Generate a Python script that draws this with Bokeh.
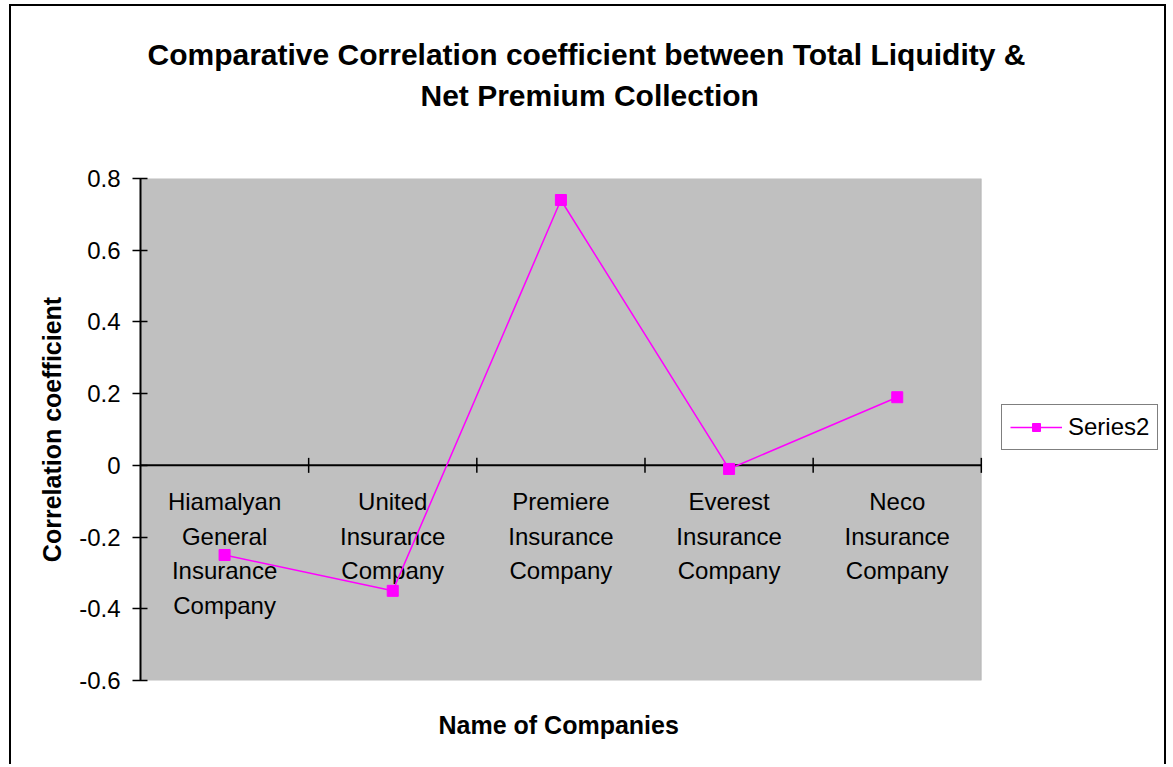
from bokeh.plotting import figure
from bokeh.models import (ColumnDataSource, Range1d, FixedTicker, CustomJSTickFormatter,
                          BoxAnnotation, Title, Legend, LegendItem)
from bokeh.core.properties import value
from bokeh.embed import file_html
from bokeh.resources import INLINE
import math

# ---------------- data ----------------
companies = [
    "Hiamalyan\nGeneral\nInsurance\nCompany",
    "United\nInsurance\nCompany",
    "Premiere\nInsurance\nCompany",
    "Everest\nInsurance\nCompany",
    "Neco\nInsurance\nCompany",
]
series2 = [-0.25, -0.35, 0.74, -0.01, 0.19]
y_ticks = [-0.6, -0.4, -0.2, 0, 0.2, 0.4, 0.6, 0.8]
series_name = "Series2"
title_line1 = "Comparative Correlation coefficient between Total Liquidity &"
title_line2 = "Net Premium Collection"
x_title = "Name of Companies"
y_title = "Correlation coefficient"

# ---------------- layout constants (pixels) ----------------
FONT = "Liberation Sans"
PLOT_W = 840      # width of the grey plot area
FRAME_W = 1027    # frame runs on to the right border (legend lives there)
n = len(companies)
xs = [i + 0.5 for i in range(n)]
src = ColumnDataSource(dict(x=xs, y=series2))
bounds = ColumnDataSource(dict(x=list(range(1, n + 1)), y=[0] * n))

p = figure(width=1157, height=760, output_backend="svg", toolbar_location=None,
           x_range=Range1d(0, n * FRAME_W / PLOT_W),
           y_range=Range1d(y_ticks[0], y_ticks[-1]),
           min_border_left=129, min_border_top=172, min_border_right=0,
           min_border_bottom=84)
p.styles = {"border-top": "2px solid black", "border-left": "2px solid black",
            "border-right": "2px solid black", "position": "relative",
            "left": "9px", "top": "4px"}
p.background_fill_color = "white"
p.border_fill_color = "white"
p.outline_line_color = None
p.grid.visible = False

# grey plot area spanning the category slots
p.add_layout(BoxAnnotation(left=0, right=n, fill_color="#C0C0C0", fill_alpha=1,
                           line_color="#808080", line_width=1, level="underlay"))

# titles: first added sits closest to the frame
spacer = Title(text=" ", standoff=29, text_font=FONT, text_font_size="30px",
               text_font_style="bold", text_color="black")
t2 = Title(text=title_line2, align="left", offset=280, standoff=6,
           text_font=FONT, text_font_size="30px", text_font_style="bold", text_color="black")
t1 = Title(text=title_line1, align="left", offset=7, standoff=6,
           text_font=FONT, text_font_size="30px", text_font_style="bold", text_color="black")
p.add_layout(spacer, "above")
p.add_layout(t2, "above")
p.add_layout(t1, "above")

# x title below the grey area
xt = Title(text=x_title, align="left", offset=298, standoff=56,
           text_font=FONT, text_font_size="25px", text_font_style="bold", text_color="black")
p.add_layout(xt, "below")
p.xaxis.visible = False

# y axis
ya = p.yaxis[0]
ya.ticker = FixedTicker(ticks=y_ticks)
ya.formatter = CustomJSTickFormatter(code="return String(tick);")
ya.axis_line_color = "black"
ya.axis_line_width = 2
ya.major_tick_line_color = "black"
ya.major_tick_line_width = 1.5
ya.major_tick_in = 7
ya.major_tick_out = 8
ya.minor_tick_line_color = None
ya.major_label_text_font = FONT
ya.major_label_text_font_size = "24px"
ya.major_label_text_color = "black"
ya.major_label_standoff = 12
ya.axis_label = y_title
ya.axis_label_text_font = FONT
ya.axis_label_text_font_size = "25px"
ya.axis_label_text_font_style = "bold"
ya.axis_label_text_color = "black"
ya.axis_label_standoff = 10

# category axis crossing at zero, with boundary ticks
p.segment(x0=[0], x1=[n], y0=[0], y1=[0], line_color="black", line_width=2)
p.scatter("x", "y", source=bounds, marker="dash", angle=math.pi / 2, size=15,
          line_color="black", line_width=1.5)

# category labels
p.text("x", "y", text="label", source=ColumnDataSource(dict(x=xs, y=[0] * n, label=companies)),
       text_font=value(FONT), text_font_size="24px", text_color="black",
       text_align="center", text_baseline="top", y_offset=23, text_line_height=1.28)

# series
ln = p.line("x", "y", source=src, line_color="#FF00FF", line_width=1.5)
sc = p.scatter("x", "y", source=src, marker="square", size=11,
               fill_color="#FF00FF", line_color="#FF00FF")

legend = Legend(items=[LegendItem(label=series_name, renderers=[ln, sc])],
                location=(861, 230), border_line_color="black", border_line_width=1,
                label_text_font=FONT, label_text_font_size="24px",
                label_text_color="black", padding=8, glyph_width=52, glyph_height=20,
                label_standoff=6, background_fill_color="white", background_fill_alpha=1,
                margin=0)
p.add_layout(legend, "center")

open("out.html", "w").write(file_html(p, INLINE))
